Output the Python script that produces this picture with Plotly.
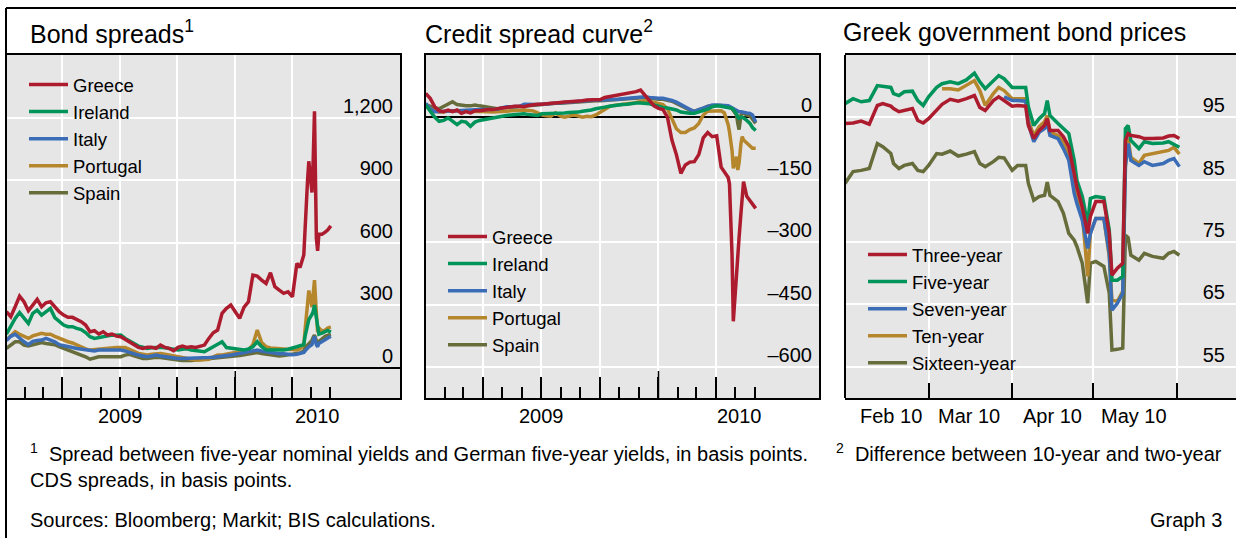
import plotly.graph_objects as go

FONT = "Liberation Sans, Arial, Helvetica, sans-serif"
W, H = 1236, 538

# ---------------- data: panels 1 and 2 (weekly, then denser) ----------------
dates_12 = [
    "2009-01-02", "2009-01-09", "2009-01-16", "2009-01-23", "2009-01-30", "2009-02-06", "2009-02-13",
    "2009-02-20", "2009-02-27", "2009-03-06", "2009-03-13", "2009-03-20", "2009-03-27", "2009-04-03",
    "2009-04-10", "2009-04-17", "2009-04-24", "2009-05-01", "2009-05-08", "2009-05-15", "2009-05-22",
    "2009-05-29", "2009-06-05", "2009-06-12", "2009-06-19", "2009-06-26", "2009-07-03", "2009-07-10",
    "2009-07-17", "2009-07-24", "2009-07-31", "2009-08-07", "2009-08-14", "2009-08-21", "2009-08-28",
    "2009-09-04", "2009-09-11", "2009-09-18", "2009-09-25", "2009-10-02", "2009-10-09", "2009-10-16",
    "2009-10-23", "2009-10-30", "2009-11-06", "2009-11-13", "2009-11-20", "2009-11-27", "2009-12-04",
    "2009-12-11", "2009-12-18", "2009-12-25", "2010-01-01", "2010-01-08", "2010-01-15", "2010-01-22",
    "2010-01-29", "2010-02-05", "2010-02-12", "2010-02-19", "2010-02-26", "2010-03-05", "2010-03-12",
    "2010-03-19", "2010-03-26", "2010-04-02",
    "2010-04-09", "2010-04-14", "2010-04-20", "2010-04-22", "2010-04-26", "2010-04-28", "2010-05-03",
    "2010-05-05", "2010-05-07", "2010-05-10", "2010-05-12", "2010-05-14", "2010-05-19", "2010-05-24",
    "2010-05-28", "2010-06-02",
]

# Bond spreads (basis points)
bs_greece = [268, 244, 292, 343, 316, 273, 300, 327, 292, 311,
             316, 292, 268, 252, 241, 241, 231, 220, 204, 172,
             177, 161, 172, 156, 161, 151, 148, 135, 124, 108,
             97, 92, 97, 97, 92, 108, 97, 92, 81, 97,
             103, 97, 100, 97, 103, 108, 140, 167, 180, 260,
             284, 300, 268, 236, 290, 316, 444, 439, 420, 404,
             455, 388, 372, 356, 364, 340,
             500, 480, 540, 680, 900, 990, 840, 1000, 1230, 620,
             560, 640, 640, 650, 660, 680]
bs_ireland = [160, 200, 236, 264, 236, 212, 260, 276, 252, 268,
              284, 240, 220, 204, 196, 196, 188, 182, 168, 148,
              140, 144, 148, 150, 156, 155, 156, 140, 128, 112,
              103, 98, 92, 95, 97, 97, 95, 90, 88, 84,
              88, 90, 84, 80, 78, 76, 88, 100, 116, 124,
              96, 92, 92, 88, 84, 90, 100, 124, 100, 85,
              84, 84, 84, 84, 88, 92,
              100, 105, 110, 150, 200, 230, 255, 270, 300, 240,
              190, 160, 165, 172, 178, 170]
bs_italy = [130, 150, 160, 140, 124, 110, 126, 130, 132, 140,
            134, 124, 110, 104, 100, 96, 92, 88, 84, 80,
            80, 84, 84, 86, 86, 86, 84, 80, 72, 64,
            60, 56, 52, 56, 60, 56, 52, 50, 48, 44,
            44, 44, 44, 44, 44, 46, 48, 50, 52, 52,
            56, 60, 64, 68, 70, 72, 76, 84, 80, 76,
            72, 68, 66, 66, 62, 62,
            64, 66, 72, 80, 96, 100, 110, 130, 150, 110,
            100, 116, 124, 132, 140, 150]
bs_portugal = [132, 150, 172, 160, 148, 140, 152, 160, 164, 160,
               160, 150, 140, 130, 124, 118, 108, 100, 90, 84,
               86, 88, 92, 96, 96, 96, 96, 96, 88, 76,
               68, 64, 60, 64, 68, 68, 64, 60, 56, 52,
               44, 40, 36, 36, 36, 36, 40, 52, 60, 60,
               64, 68, 68, 76, 80, 84, 110, 180, 120, 100,
               94, 92, 92, 88, 86, 84,
               84, 90, 110, 180, 300, 370, 290, 350, 420, 260,
               170, 190, 175, 180, 190, 195]
bs_spain = [92, 110, 124, 124, 108, 104, 110, 116, 120, 116,
            112, 110, 100, 92, 86, 80, 72, 64, 52, 40,
            48, 52, 52, 52, 52, 52, 52, 60, 64, 56,
            48, 44, 44, 48, 50, 48, 44, 40, 36, 36,
            34, 32, 34, 36, 38, 40, 42, 44, 46, 48,
            52, 54, 56, 58, 62, 64, 66, 72, 68, 64,
            60, 58, 56, 58, 60, 62,
            68, 70, 80, 95, 110, 115, 130, 145, 156, 130,
            124, 125, 140, 150, 155, 160]

# Credit spread curve (10-year minus two-year CDS, basis points)
cs_greece = [57, 45, 25, 15, 13, 17, 13, 17, 9, 13,
             10, 15, 15, 17, 18, 18, 21, 22, 23, 25,
             26, 26, 25, 28, 30, 31, 31, 33, 33, 34,
             34, 36, 37, 37, 39, 39, 41, 42, 41, 42,
             47, 49, 50, 53, 54, 57, 58, 61, 65, 53,
             38, 27, 21, 18, 0, -55, -90, -135, -115, -108,
             -107, -90, -50, -37, -47, -45,
             -120, -130, -145, -160, -330, -490, -365, -340, -290, -230,
             -180, -155, -190, -200, -207, -219]
cs_ireland = [29, 14, 0, -10, -8, -2, -10, -18, -10, -12,
              -22, -12, -8, -6, -4, 0, 2, 3, 4, 5,
              6, 8, 8, 6, 5, 4, 8, 8, 9, 9,
              10, 10, 11, 11, 12, 14, 15, 17, 20, 21,
              24, 26, 28, 29, 30, 31, 33, 34, 34, 34,
              32, 29, 25, 23, 22, 20, 17, 12, 10, 9,
              9, 12, 17, 19, 25, 27,
              26, 25, 24, 23, 21, 18, 8, 0, -3, 0,
              0, -2, -8, -15, -25, -32]
cs_italy = [33, 20, 13, 13, 13, 14, 14, 15, 16, 17,
            18, 18, 18, 18, 18, 18, 19, 22, 25, 25,
            25, 26, 31, 30, 29, 30, 31, 32, 33, 34,
            35, 36, 37, 38, 39, 39, 39, 40, 41, 41,
            41, 42, 42, 43, 44, 45, 46, 47, 48, 49,
            47, 45, 45, 45, 43, 40, 36, 30, 25, 18,
            13, 18, 22, 27, 29, 29,
            29, 28, 27, 26, 22, 20, 15, 13, 13, 13,
            12, 12, 10, 9, 5, -12]
cs_portugal = [30, 20, 15, 12, 12, 15, 15, 15, 15, 15,
               15, 15, 15, 14, 13, 12, 12, 13, 14, 15,
               16, 17, 17, 16, 15, 10, 5, 3, 2, 10,
               3, 0, 2, 5, 3, 0, 2, 1, 5, 12,
               20, 25, 28, 30, 31, 32, 33, 35, 38, 40,
               38, 35, 33, 30, 20, -5, -28, -37, -37, -30,
               -26, -15, 5, 14, 15, 15,
               15, 10, -18, -35, -80, -123, -95, -127, -110, -63,
               -47, -55, -62, -68, -75, -75]
cs_spain = [30, 25, 22, 20, 25, 30, 37, 30, 28, 27,
            27, 29, 27, 25, 22, 20, 20, 22, 24, 24,
            24, 25, 28, 28, 28, 29, 30, 31, 32, 33,
            33, 34, 35, 36, 37, 37, 37, 38, 39, 39,
            40, 40, 41, 42, 43, 44, 45, 46, 46, 47,
            46, 44, 43, 43, 41, 38, 33, 27, 22, 17,
            14, 17, 21, 26, 28, 28,
            28, 27, 25, 24, 20, 15, 5, -15, -30, 5,
            8, 10, 5, 3, -5, -15]

# ---------------- data: panel 3 (Greek government bond prices) ----------------
dates_3 = [
    "2010-01-29", "2010-02-01", "2010-02-04", "2010-02-07", "2010-02-10", "2010-02-12", "2010-02-15",
    "2010-02-16", "2010-02-18", "2010-02-20", "2010-02-23", "2010-02-25", "2010-02-27", "2010-03-01",
    "2010-03-04", "2010-03-06", "2010-03-09", "2010-03-12", "2010-03-15", "2010-03-18", "2010-03-20",
    "2010-03-22", "2010-03-25", "2010-03-27", "2010-03-29", "2010-04-01", "2010-04-03", "2010-04-06",
    "2010-04-07", "2010-04-09", "2010-04-11", "2010-04-13", "2010-04-14", "2010-04-15", "2010-04-18",
    "2010-04-20", "2010-04-22", "2010-04-24", "2010-04-25", "2010-04-27", "2010-04-29", "2010-04-30",
    "2010-05-02", "2010-05-05", "2010-05-07", "2010-05-08", "2010-05-10", "2010-05-12", "2010-05-13",
    "2010-05-14", "2010-05-15", "2010-05-18", "2010-05-20", "2010-05-23", "2010-05-27", "2010-05-29",
    "2010-05-31", "2010-06-02",
]
N = None
gb_3y = [94.0, 94.1, 94.4, 93.9, 96.9, 97.2, 96.8, 96.4, 95.9, 96.1,
         96.4, 94.5, 94.1, 94.8, 96.1, 97.1, 97.9, 97.6, 98.0, 98.5,
         96.6, 96.1, 97.7, 98.3, 97.7, 96.8, 96.9, 96.8, 93.7, 91.6,
         92.9, 93.7, 94.8, 92.9, 92.9, 91.9, 90.3, 86.0, 83.8, 80.6,
         76.4, 79.1, 81.5, 81.5, 76.4, 69.7, 70.8, 71.6, 91.3, 92.4,
         92.1, 91.9, 91.6, 91.6, 91.7, 92.0, 92.1, 91.6]
gb_5y = [97.2, 98.0, 97.5, 97.7, 100.1, 100.0, 99.8, 98.8, 98.5, 99.1,
         99.2, 97.7, 96.9, 98.3, 99.8, 100.4, 100.7, 100.4, 101.0, 102.1,
         100.7, 99.6, 100.9, 101.7, 101.2, 99.8, 99.8, 99.8, 96.7, 93.7,
         94.8, 95.6, 97.7, 95.3, 94.0, 93.2, 92.4, 88.1, 84.9, 82.3,
         78.0, 82.0, 82.3, 82.1, 76.9, 68.9, 68.9, 69.5, 93.2, 93.7,
         91.3, 90.0, 91.1, 90.8, 90.9, 91.1, 90.7, 90.2]
gb_7y = [N, N, N, N, N, N, N, N, N, N,
         N, N, N, N, N, N, N, N, N, N,
         N, N, N, N, 98.3, 97.7, 97.7, 97.6, 94.0, 91.1,
         92.6, 93.2, 94.0, 92.1, 91.6, 90.0, 88.1, 82.8, 81.2, 78.5,
         74.0, 76.4, 78.8, 78.8, 73.2, 64.1, 65.2, 66.8, 87.1, 90.8,
         88.1, 87.3, 87.9, 87.3, 87.6, 88.1, 88.4, 87.1]
gb_10y = [N, N, N, N, N, N, N, N, N, N,
          N, N, N, N, N, 99.6, 99.6, 99.4, 100.1, 100.9,
          99.3, 96.9, 98.8, 99.8, 99.3, 98.0, 98.0, 98.0, 94.5, 92.1,
          93.5, 94.3, 95.3, 92.6, 92.1, 91.1, 89.2, 86.0, 82.8, 79.6,
          69.5, 76.4, 78.8, 78.8, 72.7, 65.7, 65.5, 67.1, 88.1, 91.6,
          88.6, 87.6, 88.9, 89.2, 89.5, 89.7, 90.2, 89.1]
gb_16y = [84.4, 86.3, 86.5, 86.8, 90.8, 90.3, 89.2, 87.6, 86.8, 87.3,
          87.6, 86.5, 86.3, 87.3, 89.2, 89.1, 89.6, 88.8, 89.1, 89.5,
          87.6, 87.1, 87.9, 88.6, 88.5, 86.5, 87.3, 87.3, 84.4, 81.7,
          82.3, 82.5, 84.6, 82.5, 81.5, 79.6, 76.4, 75.3, 74.3, 71.6,
          65.2, 71.6, 71.9, 71.1, 66.8, 57.7, 57.8, 58.0, 76.1, 75.7,
          72.9, 72.1, 73.2, 72.7, 72.4, 73.2, 73.5, 72.9]

# ---------------- axis tick categories ----------------
quarter_ticks = ["2009-04-01", "2009-07-01", "2009-10-01", "2010-01-01", "2010-04-01"]
month_ticks = ["2009-02-01", "2009-03-01", "2009-05-01", "2009-06-01", "2009-08-01", "2009-09-01",
               "2009-11-01", "2009-12-01", "2010-02-01", "2010-03-01", "2010-05-01", "2010-06-01"]
year_tick = "2010-01-01"
year_labels = ["2009", "2010"]
p1_label_pos = ["2009-07-02", "2010-05-12"]
p2_label_pos = ["2009-07-02", "2010-05-07"]
p3_ticks = ["2010-03-01", "2010-04-01", "2010-05-01", "2010-06-01"]
p3_label_pos = ["2010-02-15", "2010-03-16", "2010-04-16", "2010-05-16"]
p3_labels = ["Feb 10", "Mar 10", "Apr 10", "May 10"]

RED, GREEN, BLUE, GOLD, OLIVE = "#ad1c2e", "#00935a", "#3a6db6", "#b5862c", "#676c3b"
LW = 3.5

fig = go.Figure()

p1 = [("Greece", bs_greece, RED), ("Ireland", bs_ireland, GREEN), ("Italy", bs_italy, BLUE),
      ("Portugal", bs_portugal, GOLD), ("Spain", bs_spain, OLIVE)]
p2 = [("Greece", cs_greece, RED), ("Ireland", cs_ireland, GREEN), ("Italy", cs_italy, BLUE),
      ("Portugal", cs_portugal, GOLD), ("Spain", cs_spain, OLIVE)]
p3 = [("Three-year", gb_3y, RED), ("Five-year", gb_5y, GREEN), ("Seven-year", gb_7y, BLUE),
      ("Ten-year", gb_10y, GOLD), ("Sixteen-year", gb_16y, OLIVE)]

# draw order in the plot: last series at bottom, first on top
def add_panel(series, xa, ya, leg, dates):
    for i in range(len(series) - 1, -1, -1):
        name, vals, col = series[i]
        fig.add_trace(go.Scatter(x=dates, y=vals, name=name, mode="lines",
                                 line=dict(color=col, width=LW), xaxis=xa, yaxis=ya,
                                 legend=leg, legendrank=i + 1, connectgaps=False,
                                 hoverinfo="skip"))

add_panel(p1, "x", "y", "legend", dates_12)
add_panel(p2, "x2", "y2", "legend2", dates_12)
add_panel(p3, "x3", "y3", "legend3", dates_3)

ydom = [1 - 398 / H, 1 - 55 / H]
dom1 = [7 / W, 400 / W]
dom2 = [425.7 / W, 819 / W]
dom3 = [845 / W, 1.0]

tickfont = dict(family=FONT, size=20, color="black")
common_x = dict(type="date", ticks="inside", tickcolor="black", tickwidth=1.5,
                showticklabels=False, showgrid=True, gridcolor="white", gridwidth=1.5,
                showline=True, mirror=True, linecolor="black", linewidth=2, zeroline=False)
common_y = dict(side="right", ticks="", ticklabelposition="inside", tickfont=tickfont,
                showgrid=True, gridcolor="white", gridwidth=1.5, domain=ydom,
                ticklabelstandoff=8, ticklabelshift=-12)
minor_months = dict(tickvals=month_ticks, ticks="inside", ticklen=11, tickcolor="black",
                    tickwidth=1.5, showgrid=False)

fig.update_layout(
    width=W, height=H, margin=dict(l=0, r=0, t=0, b=0),
    paper_bgcolor="white", plot_bgcolor="#e6e6e6",
    font=dict(family=FONT, size=20, color="black"),
    xaxis=dict(common_x, domain=dom1, anchor="y", range=["2009-01-03", "2010-09-20"],
               tickmode="array", tickvals=quarter_ticks, ticklen=21, minor=minor_months),
    xaxis2=dict(common_x, domain=dom2, anchor="y2", range=["2009-01-02", "2010-09-09"],
                tickmode="array", tickvals=quarter_ticks, ticklen=21, minor=minor_months),
    xaxis3=dict(common_x, domain=dom3, anchor="y3", range=["2010-01-29", "2010-06-23"],
                tickmode="array", tickvals=p3_ticks, ticklen=15),
    yaxis=dict(common_y, anchor="x", range=[-146, 1500], tickmode="array",
               tickvals=[0, 300, 600, 900, 1200], ticktext=["0", "300", "600", "900", "1,200"],
               zeroline=True, zerolinecolor="black", zerolinewidth=1.5,
               showline=True, mirror=True, linecolor="black", linewidth=2),
    yaxis2=dict(common_y, anchor="x2", range=[-674, 149], tickmode="array",
                tickvals=[0, -150, -300, -450, -600],
                ticktext=["0", "\u2013150", "\u2013300", "\u2013450", "\u2013600"],
                zeroline=True, zerolinecolor="black", zerolinewidth=1.5,
                showline=True, mirror=True, linecolor="black", linewidth=2),
    yaxis3=dict(common_y, anchor="x3", range=[50, 105], tickmode="array",
                tickvals=[55, 65, 75, 85, 95], ticktext=["55", "65", "75", "85", "95"],
                zeroline=False, showline=False),
)

leg_common = dict(bgcolor="rgba(0,0,0,0)", font=dict(family=FONT, size=18.5, color="black"),
                  xanchor="left", yanchor="top", tracegroupgap=0, itemwidth=39,
                  traceorder="normal")
fig.update_layout(
    legend=dict(leg_common, x=24 / W, y=1 - 66 / H),
    legend2=dict(leg_common, x=443 / W, y=1 - 218 / H),
    legend3=dict(leg_common, x=863 / W, y=1 - 236 / H),
)

# x-axis category labels placed at their dates, below each panel
def x_labels(xref, positions, texts):
    for pos, txt in zip(positions, texts):
        fig.add_annotation(text=txt, x=pos, xref=xref, y=1 - 416 / H, yref="paper",
                           xanchor="center", yanchor="middle", showarrow=False,
                           font=dict(family=FONT, size=20, color="black"))

x_labels("x", p1_label_pos, year_labels)
x_labels("x2", p2_label_pos, year_labels)
x_labels("x3", p3_label_pos, p3_labels)

# the longer year tick at the start of 2010
for xr, yr in (("x", "y domain"), ("x2", "y2 domain")):
    fig.add_shape(type="line", xref=xr, yref=yr, x0=year_tick, x1=year_tick, y0=0, y1=27 / 343,
                  line=dict(color="black", width=1.5))

def px_ann(text, x, y, size=20, xanchor="left"):
    fig.add_annotation(text=text, x=x / W, y=1 - y / H, xref="paper", yref="paper",
                       xanchor=xanchor, yanchor="middle", showarrow=False,
                       font=dict(family=FONT, size=size, color="black"))

px_ann("Bond spreads<sup>1</sup>", 28, 32, size=25)
px_ann("Credit spread curve<sup>2</sup>", 423, 32, size=25)
px_ann("Greek government bond prices", 841, 32, size=25)

px_ann("<sup>1</sup>  Spread between five-year nominal yields and German five-year yields, in basis points.", 28, 452)
px_ann("<sup>2</sup>  Difference between 10-year and two-year", 834, 452)
px_ann("CDS spreads, in basis points.", 28, 480)
px_ann("Sources: Bloomberg; Markit; BIS calculations.", 28, 520)
px_ann("Graph 3", 1224, 520, xanchor="right")

# outer frame (top and left) and left border of the third panel
fig.add_shape(type="line", xref="paper", yref="paper", x0=6 / W, x1=1, y0=1 - 8 / H, y1=1 - 8 / H,
              line=dict(color="black", width=2))
fig.add_shape(type="line", xref="paper", yref="paper", x0=6 / W, x1=6 / W, y0=0, y1=1 - 8 / H,
              line=dict(color="black", width=2))
fig.add_shape(type="line", xref="x3 domain", yref="y3 domain", x0=0, x1=0, y0=0, y1=1,
              line=dict(color="black", width=2))

fig.write_html("out.html", config={"displayModeBar": False},
               post_script="document.body.style.margin='0';")
